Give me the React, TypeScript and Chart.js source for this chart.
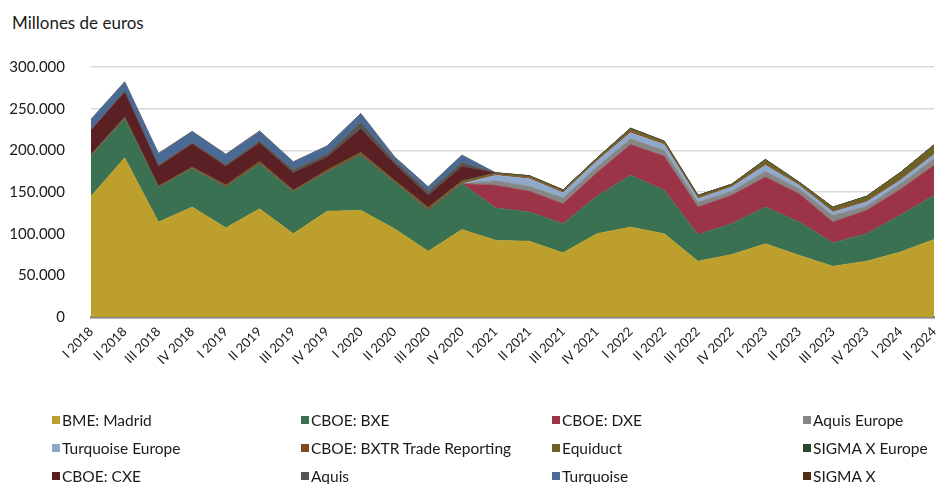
import React, { useEffect, useRef } from "react";
import { Chart, registerables } from "chart.js";

Chart.register(...registerables);

const categories = [
  "I 2018", "II 2018", "III 2018", "IV 2018",
  "I 2019", "II 2019", "III 2019", "IV 2019",
  "I 2020", "II 2020", "III 2020", "IV 2020",
  "I 2021", "II 2021", "III 2021", "IV 2021",
  "I 2022", "II 2022", "III 2022", "IV 2022",
  "I 2023", "II 2023", "III 2023", "IV 2023",
  "I 2024", "II 2024",
];

const yTicks = [0, 50000, 100000, 150000, 200000, 250000, 300000];

const bmeMadrid = [145000, 191000, 114000, 132000, 107000, 130000, 100000, 127000, 128000, 106000, 79000, 105000, 92000, 91000, 77000, 100000, 108000, 100000, 67000, 75000, 88000, 74000, 61000, 67000, 78000, 93000];
const cboeBxe = [48000, 47000, 41000, 46000, 49000, 54000, 50000, 47000, 66000, 56000, 49000, 55000, 39000, 35000, 35000, 45000, 62000, 52000, 32000, 37000, 44000, 40000, 28000, 33000, 44000, 53000];
const cboeDxe = [0, 0, 0, 0, 0, 0, 0, 0, 0, 0, 0, 0, 27000, 25000, 24000, 28000, 37000, 41000, 33000, 34000, 36000, 34000, 25000, 28000, 31000, 36000];
const aquisEurope = [0, 0, 0, 0, 0, 0, 0, 0, 0, 0, 0, 0, 5500, 6000, 7000, 7000, 7000, 7000, 6000, 5000, 7000, 6000, 8000, 5000, 7000, 8000];
const turquoiseEurope = [0, 0, 0, 0, 0, 0, 0, 0, 0, 0, 0, 0, 6500, 9000, 6000, 7000, 7000, 7000, 4000, 5000, 7000, 4000, 4000, 5000, 4000, 5000];
const cboeBxtr = [1500, 1500, 1500, 1500, 2000, 2000, 1500, 2000, 2500, 1500, 2500, 2000, 1500, 1500, 1500, 1500, 2000, 1500, 1500, 1000, 1500, 1000, 1500, 1500, 2000, 2000];
const equiduct = [500, 500, 500, 500, 500, 500, 500, 500, 1000, 500, 1000, 1000, 1000, 1500, 1500, 1500, 3000, 2000, 2000, 2000, 5000, 2500, 4000, 5000, 7000, 9000];
const sigmaXEurope = [0, 0, 0, 0, 0, 0, 0, 0, 0, 0, 0, 500, 500, 500, 500, 500, 500, 500, 500, 300, 500, 300, 300, 300, 300, 500];
const cboeCxe = [29000, 30000, 24000, 28000, 22500, 22500, 21000, 15500, 28500, 20000, 14500, 17500, 0, 0, 0, 0, 0, 0, 0, 0, 0, 0, 0, 0, 0, 0];
const aquis = [1000, 1000, 1500, 1500, 2000, 2500, 4000, 4000, 8000, 4000, 5000, 5000, 0, 0, 0, 0, 0, 0, 0, 0, 0, 0, 0, 0, 0, 0];
const turquoise = [12000, 11000, 13500, 13000, 12000, 11500, 9000, 9000, 10000, 4000, 5000, 8000, 0, 0, 0, 0, 0, 0, 0, 0, 0, 0, 0, 0, 0, 0];
const sigmaX = [300, 300, 300, 300, 300, 300, 300, 300, 300, 300, 300, 300, 0, 0, 0, 0, 0, 0, 0, 0, 0, 0, 0, 0, 0, 0];

const seriesNames = [
  "BME: Madrid", "CBOE: BXE", "CBOE: DXE", "Aquis Europe",
  "Turquoise Europe", "CBOE: BXTR Trade Reporting", "Equiduct", "SIGMA X Europe",
  "CBOE: CXE", "Aquis", "Turquoise", "SIGMA X",
];
const seriesValues = [
  bmeMadrid, cboeBxe, cboeDxe, aquisEurope,
  turquoiseEurope, cboeBxtr, equiduct, sigmaXEurope,
  cboeCxe, aquis, turquoise, sigmaX,
];
const seriesColors = [
  "#BC9F2C", "#3A7152", "#9B3447", "#868686",
  "#8EA9CC", "#7E4A1E", "#6B6325", "#254730",
  "#5A2024", "#555555", "#4A6A96", "#4F2E0E",
];

const FONT = "Lato, 'Open Sans', sans-serif";

function fmt(v: number): string {
  return String(v).replace(/\B(?=(\d{3})+(?!\d))/g, ".");
}

export default function App() {
  const canvasRef = useRef<HTMLCanvasElement | null>(null);

  useEffect(() => {
    const canvas = canvasRef.current;
    if (!canvas) return;
    const chart = new Chart(canvas, {
      type: "line",
      data: {
        labels: categories,
        datasets: seriesNames.map((name, i) => ({
          label: name,
          data: seriesValues[i],
          backgroundColor: seriesColors[i],
          borderColor: seriesColors[i],
          borderWidth: 0.6,
          pointRadius: 0,
          pointHoverRadius: 0,
          tension: 0,
          fill: i === 0 ? "origin" : "-1",
        })),
      },
      options: {
        responsive: false,
        animation: false,
        events: [],
        layout: { padding: { top: 67, left: 0, right: 4, bottom: 107 } },
        plugins: {
          legend: { display: false },
          tooltip: { enabled: false },
          title: { display: false },
        },
        scales: {
          x: {
            type: "category",
            offset: false,
            z: 1,
            grid: { display: false, drawTicks: false },
            border: { display: true, color: "#7f7f7f", width: 2.5 },
            ticks: {
              autoSkip: false,
              minRotation: 45,
              maxRotation: 45,
              padding: 7,
              color: "#1a1a1a",
              font: { family: FONT, size: 13 },
            },
            afterFit: (scale: any) => {
              scale.height = 60;
              scale.paddingLeft = 0;
              scale.paddingRight = 0;
            },
          },
          y: {
            stacked: true,
            min: 0,
            max: 300000,
            grid: { color: "#d9d9d9", lineWidth: 1.5, drawTicks: false },
            border: { display: false },
            afterBuildTicks: (scale: any) => {
              scale.ticks = yTicks.map((v) => ({ value: v }));
            },
            ticks: {
              padding: 26,
              color: "#1a1a1a",
              font: { family: FONT, size: 15 },
              callback: (v: any) => fmt(Number(v)),
            },
            afterFit: (scale: any) => {
              scale.width = 91;
              scale.paddingTop = 0;
              scale.paddingBottom = 0;
            },
          },
        },
      },
    });
    return () => chart.destroy();
  }, []);

  const colLeft = [52, 301, 552, 803];
  const rowTop = [420, 448, 476];

  return (
    <div
      style={{
        position: "fixed",
        left: 0,
        top: 0,
        width: 938,
        height: 484,
        background: "#ffffff",
        fontFamily: FONT,
        color: "#1a1a1a",
        overflow: "hidden",
      }}
    >
      <div
        style={{
          position: "absolute",
          left: 12,
          top: 22,
          transform: "translateY(-50%)",
          fontSize: 17,
          whiteSpace: "nowrap",
        }}
      >
        Millones de euros
      </div>
      <canvas
        ref={canvasRef}
        width={938}
        height={484}
        style={{ position: "absolute", left: 0, top: 0, width: 938, height: 484 }}
      />
      {seriesNames.map((name, i) => {
        const col = i % 4;
        const row = Math.floor(i / 4);
        return (
          <div
            key={name}
            style={{
              position: "absolute",
              left: colLeft[col],
              top: rowTop[row],
              transform: "translateY(-50%)",
              display: "flex",
              alignItems: "center",
              fontSize: 15.5,
              whiteSpace: "nowrap",
              lineHeight: "18px",
            }}
          >
            <span
              style={{
                display: "inline-block",
                width: 8,
                height: 8,
                background: seriesColors[i],
                marginRight: 2,
              }}
            />
            <span>{name}</span>
          </div>
        );
      })}
    </div>
  );
}
